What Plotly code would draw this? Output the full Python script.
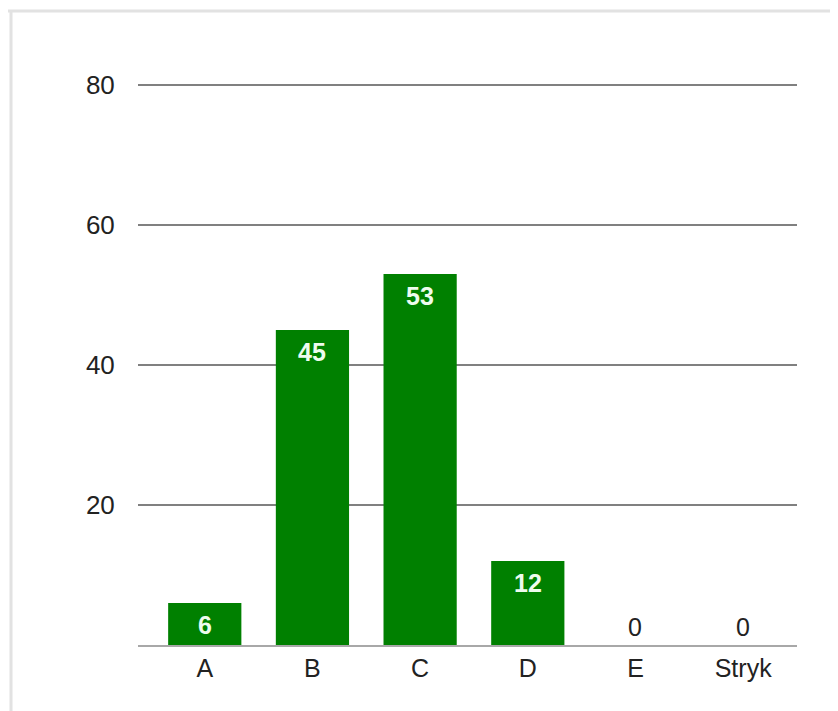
import plotly.graph_objects as go

categories = ["A", "B", "C", "D", "E", "Stryk"]
values = [6, 45, 53, 12, 0, 0]
y_ticks = [20, 40, 60, 80]

FONT = "Arial, Liberation Sans, sans-serif"

fig = go.Figure()
fig.add_trace(go.Bar(
    x=list(range(len(categories))),
    y=values,
    marker=dict(color="#008000", line=dict(width=0)),
    hoverinfo="x+y",
))

annotations = []
for i, v in enumerate(values):
    if v > 0:
        annotations.append(dict(
            x=i, y=v, xref="x", yref="y", text=f"<b>{v}</b>", showarrow=False,
            yanchor="top", yshift=-6,
            font=dict(family=FONT, size=25, color="#eefcee"),
        ))
    else:
        annotations.append(dict(
            x=i, y=v, xref="x", yref="y", text=str(v), showarrow=False,
            yanchor="bottom", yshift=2,
            font=dict(family=FONT, size=25, color="#222222"),
        ))

W, H = 830, 703
L, R, T, B = 130, 41, 63, 66
PW, PH = W - L - R, H - T - B

fig.update_layout(
    width=W,
    height=H,
    margin=dict(l=L, r=R, t=T, b=B),
    paper_bgcolor="white",
    plot_bgcolor="white",
    bargap=0.32,
    showlegend=False,
    font=dict(family=FONT, size=26, color="#222222"),
    xaxis=dict(
        range=[-0.62, 5.5],
        tickvals=list(range(len(categories))),
        ticktext=categories,
        showgrid=False,
        showline=True,
        linecolor="#a8a8a8",
        linewidth=2,
        ticks="",
        tickfont=dict(size=25, color="#222222"),
    ),
    yaxis=dict(
        range=[0, 82],
        tickvals=y_ticks,
        showgrid=True,
        gridcolor="#808080",
        gridwidth=2,
        zeroline=False,
        showline=False,
        ticks="outside",
        ticklen=17,
        tickcolor="rgba(0,0,0,0)",
        tickfont=dict(size=26, color="#222222"),
    ),
    annotations=annotations,
    shapes=[
        dict(type="line", xref="paper", yref="paper", x0=-L/PW, x1=1 + R/PW,
             y0=1 + (T - 3)/PH, y1=1 + (T - 3)/PH,
             line=dict(color="#e2e2e2", width=3)),
        dict(type="line", xref="paper", yref="paper", x0=-(L - 3)/PW, x1=-(L - 3)/PW,
             y0=-B/PH, y1=1 + (T - 3)/PH,
             line=dict(color="#e2e2e2", width=3)),
    ],
)

fig.write_html("out.html")
